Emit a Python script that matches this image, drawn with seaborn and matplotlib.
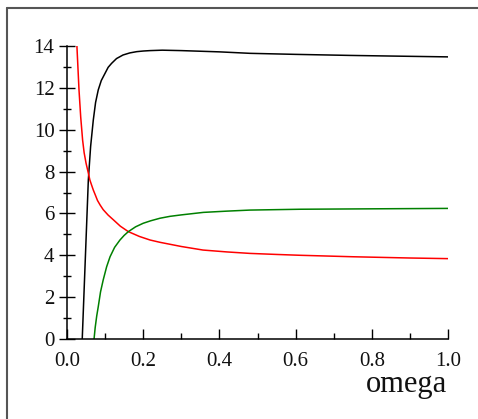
import matplotlib
matplotlib.use("Agg")
import matplotlib.pyplot as plt
from matplotlib.lines import Line2D
from matplotlib.ticker import MultipleLocator
import seaborn as sns
import pandas as pd

sns.set_style("white")
plt.rcParams['font.family'] = ['Liberation Serif', 'DejaVu Serif']

black_x = [0.040, 0.048, 0.056, 0.062, 0.069, 0.075, 0.082, 0.090, 0.100, 0.108, 0.117,
           0.130, 0.147, 0.165, 0.183, 0.200, 0.218, 0.25, 0.30, 0.40, 0.48, 0.60, 0.743, 0.85, 1.0]
black_y = [0.0, 3.8, 7.6, 9.2, 10.46, 11.3, 11.9, 12.35, 12.7, 12.98, 13.17,
           13.4, 13.57, 13.67, 13.73, 13.76, 13.78, 13.8, 13.78, 13.72, 13.65, 13.6, 13.55, 13.52, 13.48]

red_x = [0.026, 0.0315, 0.036, 0.041, 0.045, 0.050, 0.056, 0.060, 0.065, 0.069, 0.075, 0.080,
         0.087, 0.095, 0.108, 0.122, 0.140, 0.161, 0.190, 0.218, 0.244, 0.30, 0.357, 0.42, 0.48,
         0.55, 0.612, 0.75, 0.9, 1.0]
red_y = [14.0, 11.9, 10.6, 9.5, 8.9, 8.4, 7.93, 7.6, 7.33, 7.12, 6.85, 6.62,
         6.4, 6.18, 5.92, 5.69, 5.39, 5.13, 4.9, 4.73, 4.62, 4.42, 4.25, 4.16, 4.09,
         4.04, 4.0, 3.93, 3.87, 3.84]

green_x = [0.071, 0.074, 0.078, 0.082, 0.088, 0.095, 0.104, 0.113, 0.125, 0.139, 0.150, 0.161,
           0.180, 0.2, 0.22, 0.244, 0.27, 0.30, 0.358, 0.42, 0.48, 0.612, 0.8, 1.0]
green_y = [0.0, 0.55, 1.1, 1.54, 2.25, 2.82, 3.45, 3.93, 4.38, 4.73, 4.95, 5.13,
           5.36, 5.53, 5.65, 5.77, 5.86, 5.93, 6.05, 6.11, 6.16, 6.2, 6.22, 6.24]

x_ticks = [0.0, 0.2, 0.4, 0.6, 0.8, 1.0]
x_tick_labels = ["0.0", "0.2", "0.4", "0.6", "0.8", "1.0"]
y_ticks = [0, 2, 4, 6, 8, 10, 12, 14]
x_label = "omega"

fig = plt.figure(figsize=(4.78, 4.19), dpi=100)
ax = fig.add_axes([67/478, 1-339/419, 381/478, 293/419])

series = [(black_x, black_y, "black"), (red_x, red_y, "#ff0000"), (green_x, green_y, "#008000")]
for xs, ys, c in series:
    df = pd.DataFrame({"x": xs, "y": ys})
    sns.lineplot(data=df, x="x", y="y", color=c, lw=1.1, estimator=None, sort=False, ax=ax)

ax.set_xlim(0, 1)
ax.set_ylim(0, 14)
ax.set_xlabel("")
ax.set_ylabel("")
for s in ["top", "right"]:
    ax.spines[s].set_visible(False)
for s in ["left", "bottom"]:
    ax.spines[s].set_color("black")
    ax.spines[s].set_linewidth(1.1)

ax.set_xticks(x_ticks)
ax.set_xticklabels(x_tick_labels)
ax.set_yticks(y_ticks)
ax.xaxis.set_minor_locator(MultipleLocator(0.1))
ax.yaxis.set_minor_locator(MultipleLocator(1))
ax.tick_params(axis="x", which="both", bottom=True, top=False)
ax.tick_params(axis="y", which="both", left=True, right=False)
ax.tick_params(axis="x", which="major", direction="in", length=7, width=1.0, labelsize=15, pad=9, colors="black")
ax.tick_params(axis="x", which="minor", direction="in", length=4, width=1.0, colors="black")
ax.tick_params(axis="y", which="major", direction="inout", length=12, width=1.0, labelsize=15, pad=3, colors="black")
ax.tick_params(axis="y", which="minor", direction="inout", length=6, width=1.0, colors="black")
for t in ax.get_xticklabels() + ax.get_yticklabels():
    t.set_color("#111111")

fig.text(447/478, 1-392/419, x_label, ha="right", va="baseline", fontsize=22, color="#111111")

fig.add_artist(Line2D([6.5/478, 6.5/478], [0, 1-8.5/419], transform=fig.transFigure, color="#555555", lw=1.5))
fig.add_artist(Line2D([6.5/478, 1], [1-8.5/419, 1-8.5/419], transform=fig.transFigure, color="#555555", lw=1.5))

fig.savefig("out.png", dpi=100)
